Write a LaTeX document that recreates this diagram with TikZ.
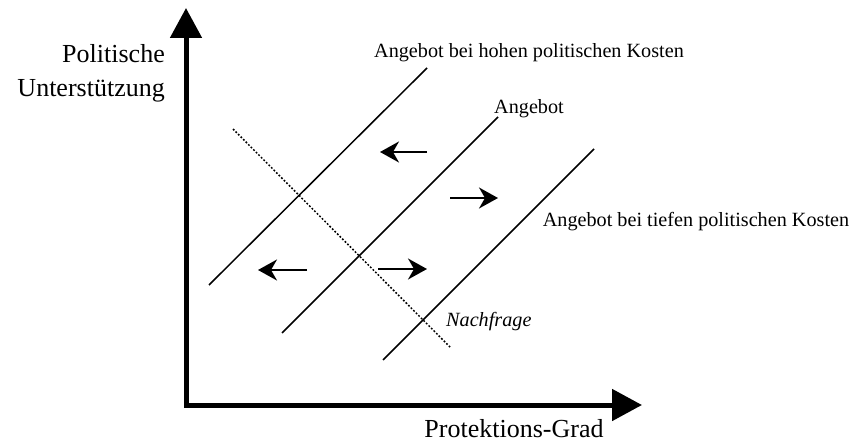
\documentclass[tikz,border=0pt]{standalone}
\usepackage{fontspec}
\setmainfont{Liberation Serif}
\usetikzlibrary{arrows.meta}
\begin{document}
\begin{tikzpicture}[x=1pt,y=-1pt,
  axis/.style={line width=5pt, line join=miter, {Triangle[length=30pt,width=31pt]}-{Triangle[length=30pt,width=31pt]}},
  supply/.style={line width=1.5pt},
  demand/.style={line width=1.5pt, dash pattern=on 1.8pt off 1.8pt},
  shiftarrow/.style={line width=1.7pt, -{Stealth[length=19pt,width=21pt,inset=6pt]}},
  big/.style={font=\fontsize{26}{30}\selectfont, inner sep=0pt},
  small/.style={font=\fontsize{20.2}{24}\selectfont, inner sep=0pt}]
\useasboundingbox (0,0) rectangle (854,444);
% axes
\coordinate (ytip) at (186,8);
\coordinate (orig) at (186,405);
\coordinate (xtip) at (642,405);
\draw[axis] (ytip) -- (orig) -- (xtip);
% supply lines
\coordinate (h1) at (209,285); \coordinate (h2) at (427,68);
\coordinate (m1) at (282,333); \coordinate (m2) at (498,117);
\coordinate (l1) at (383,360); \coordinate (l2) at (594,149);
\draw[supply] (h1) -- (h2);
\draw[supply] (m1) -- (m2);
\draw[supply] (l1) -- (l2);
% demand
\coordinate (d1) at (233,129); \coordinate (d2) at (450,347);
\draw[demand] (d1) -- (d2);
% shift arrows
\coordinate (a1s) at (427,152); \coordinate (a1e) at (380,152);
\coordinate (a2s) at (307,270); \coordinate (a2e) at (258,270);
\coordinate (a3s) at (378,269); \coordinate (a3e) at (427,269);
\coordinate (a4s) at (450,198); \coordinate (a4e) at (498,198);
\draw[shiftarrow] (a1s) -- (a1e);
\draw[shiftarrow] (a2s) -- (a2e);
\draw[shiftarrow] (a3s) -- (a3e);
\draw[shiftarrow] (a4s) -- (a4e);
% labels
\node[big, anchor=base east] (pol) at (165,63) {Politische};
\node[big, anchor=base east] (unt) at (165,96) {Unterstützung};
\node[big, anchor=base] (prot) at (514,437) {Protektions-Grad};
\node[small, anchor=base] (hoch) at (529,58) {Angebot bei hohen politischen Kosten};
\node[small, anchor=base] (ang) at (529,113) {Angebot};
\node[small, anchor=base] (tief) at (696,226) {Angebot bei tiefen politischen Kosten};
\node[small, anchor=base west, font=\fontsize{20.2}{24}\selectfont\itshape] (nach) at (446,326) {Nachfrage};
\end{tikzpicture}
\end{document}
